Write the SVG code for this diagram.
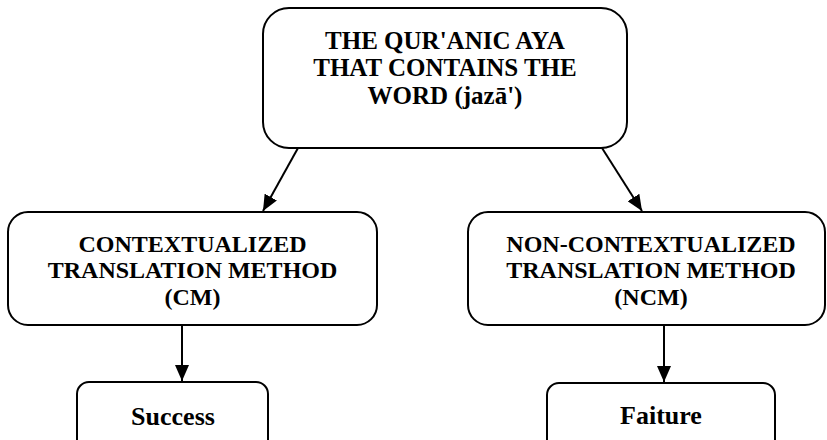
<svg xmlns="http://www.w3.org/2000/svg" width="827" height="440" viewBox="0 0 827 440">
  <style>
    .box { fill: #ffffff; stroke: #000000; stroke-width: 2; }
    .t { font-family: "Liberation Serif", "Times New Roman", serif; font-weight: bold; fill: #000000; text-anchor: middle; }
    .t25 { font-size: 25px; }
    .t26 { font-size: 26px; }
    .t24 { font-size: 24px; }
    .conn { stroke: #000000; stroke-width: 2; fill: none; marker-end: url(#arrow); }
  </style>
  <defs>
    <marker id="arrow" markerUnits="userSpaceOnUse" markerWidth="16" markerHeight="14" viewBox="0 0 16 14" refX="16" refY="7" orient="auto">
      <path d="M0,0 L16,7 L0,14 Z" fill="#000000"/>
    </marker>
  </defs>
  <rect width="827" height="440" fill="#ffffff"/>

  <g id="connectors">
    <line class="conn" x1="298" y1="148" x2="263" y2="211"/>
    <line class="conn" x1="602" y1="148" x2="642" y2="211"/>
    <line class="conn" x1="182" y1="325" x2="182" y2="381"/>
    <line class="conn" x1="664" y1="325" x2="664" y2="382"/>
  </g>

  <g id="node-aya">
    <rect class="box" x="263" y="8" width="364" height="140" rx="26" ry="26"/>
    <text class="t t25" x="445" y="49">THE QUR'ANIC AYA</text>
    <text class="t t25" x="445" y="76">THAT CONTAINS THE</text>
    <text class="t t25" x="445" y="104">WORD (jazā')</text>
  </g>

  <g id="node-cm">
    <rect class="box" x="8" y="212" width="369" height="113" rx="20" ry="20"/>
    <text class="t t24" x="192.5" y="252">CONTEXTUALIZED</text>
    <text class="t t24" x="192.5" y="278">TRANSLATION METHOD</text>
    <text class="t t24" x="192.5" y="305">(CM)</text>
  </g>

  <g id="node-ncm">
    <rect class="box" x="468" y="212" width="357" height="113" rx="20" ry="20"/>
    <text class="t t24" x="651" y="252">NON-CONTEXTUALIZED</text>
    <text class="t t24" x="651" y="278">TRANSLATION METHOD</text>
    <text class="t t24" x="651" y="305">(NCM)</text>
  </g>

  <g id="node-success">
    <rect class="box" x="77" y="382" width="191" height="80" rx="12" ry="12"/>
    <text class="t t26" x="173" y="425">Success</text>
  </g>

  <g id="node-failure">
    <rect class="box" x="547" y="383" width="228" height="80" rx="12" ry="12"/>
    <text class="t t26" x="661" y="424">Faiture</text>
  </g>
</svg>
